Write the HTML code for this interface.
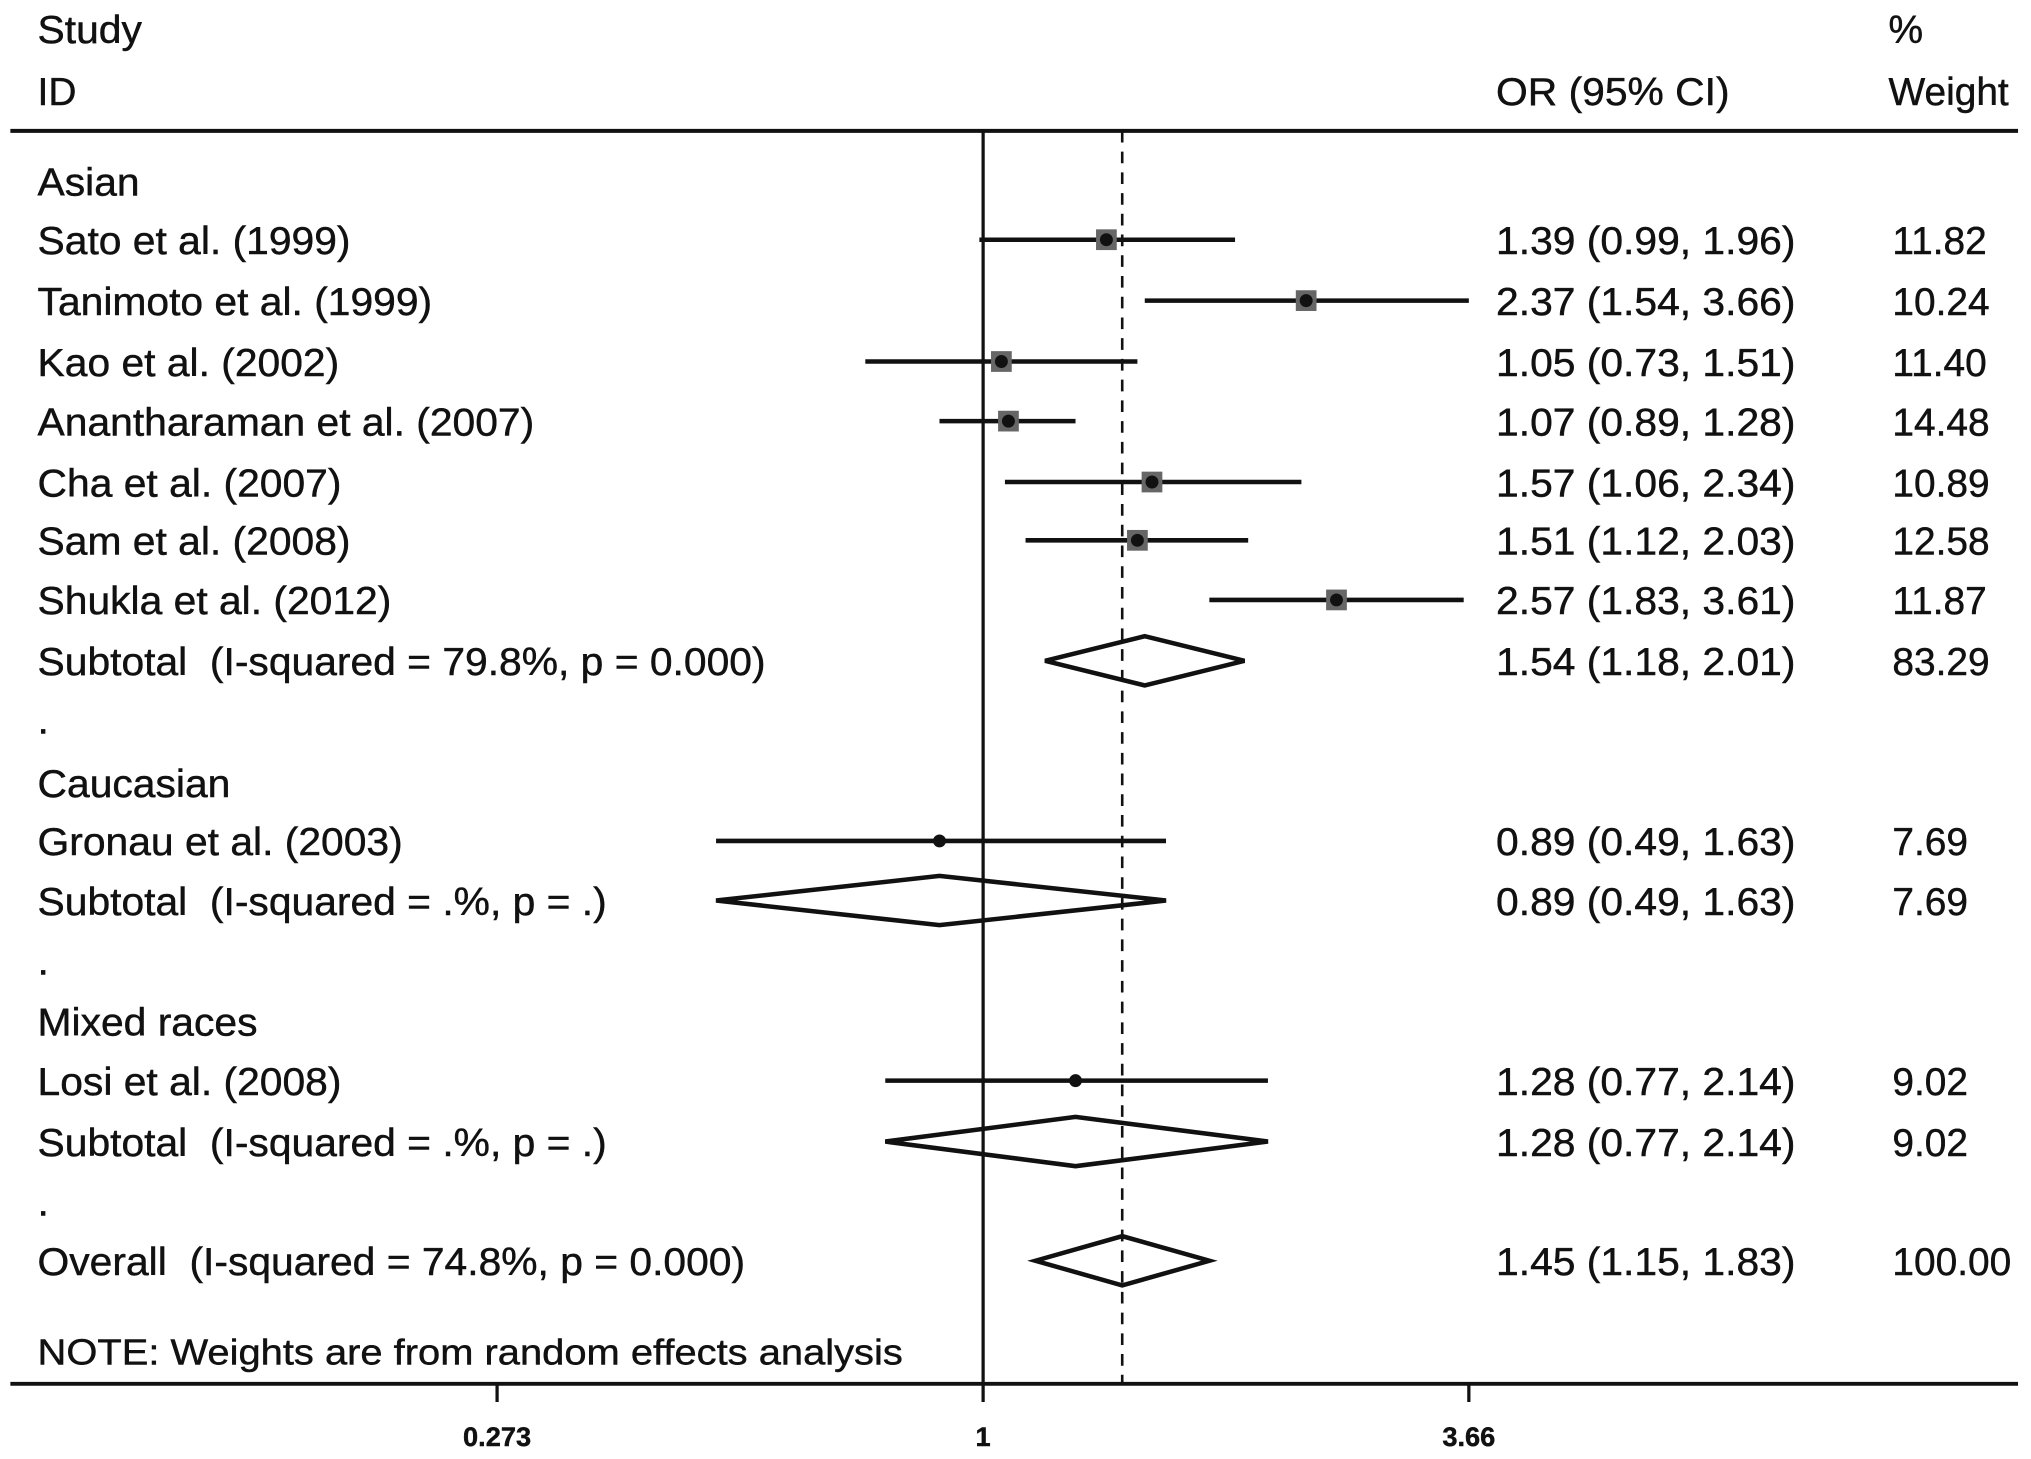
<!DOCTYPE html>
<html><head><meta charset="utf-8"><style>
html,body{margin:0;padding:0;background:#fff;}
svg{display:block;}
text{font-family:"Liberation Sans",Arial,sans-serif;fill:#111;white-space:pre;stroke:#111;stroke-width:0.35;}
</style></head><body>
<svg id="chart" width="2031" height="1459" viewBox="0 0 1568 1126" preserveAspectRatio="none" xmlns="http://www.w3.org/2000/svg" xml:space="preserve">
<g id="g"></g>
</svg>
<script>
const labels=["Asian","Sato et al. (1999)","Tanimoto et al. (1999)","Kao et al. (2002)","Anantharaman et al. (2007)","Cha et al. (2007)","Sam et al. (2008)","Shukla et al. (2012)","Subtotal  (I-squared = 79.8%, p = 0.000)",".","Caucasian","Gronau et al. (2003)","Subtotal  (I-squared = .%, p = .)",".","Mixed races","Losi et al. (2008)","Subtotal  (I-squared = .%, p = .)",".","Overall  (I-squared = 74.8%, p = 0.000)"];
const kinds=["h","s","s","s","s","s","s","s","d","h","h","s","d","h","h","s","d","h","d"];
const orVals=[null,1.39,2.37,1.05,1.07,1.57,1.51,2.57,1.54,null,null,0.89,0.89,null,null,1.28,1.28,null,1.45];
const lowVals=[null,0.99,1.54,0.73,0.89,1.06,1.12,1.83,1.18,null,null,0.49,0.49,null,null,0.77,0.77,null,1.15];
const highVals=[null,1.96,3.66,1.51,1.28,2.34,2.03,3.61,2.01,null,null,1.63,1.63,null,null,2.14,2.14,null,1.83];
const weights=[null,"11.82","10.24","11.40","14.48","10.89","12.58","11.87","83.29",null,null,"7.69","7.69",null,null,"9.02","9.02",null,"100.00"];
const tickVals=[0.273,1,3.66];
const tickLabels=["0.273","1","3.66"];
const overallOR=1.45;

const NS="http://www.w3.org/2000/svg";
const g=document.getElementById('g');
function el(t,a,txt){const e=document.createElementNS(NS,t);for(const k in a)e.setAttribute(k,a[k]);if(txt!=null)e.textContent=txt;g.appendChild(e);return e;}
function stretch(t,k){const w=t.getComputedTextLength();if(w>0){t.setAttribute('textLength',w*k);t.setAttribute('lengthAdjust','spacingAndGlyphs');}}
const X=v=>759+375*Math.log(v)/Math.log(3.66);
const rowY=[140,185,232,279,325,372,417,463,510,555,604,649,695,741,788,834,881,927,973];
const f=n=>n.toFixed(2);
const FS=30, K=1.05;

let e;
e=el('text',{x:29,y:33,'font-size':FS},'Study');


stretch(e,K);
e=el('text',{x:29,y:81,'font-size':FS},'ID');


e=el('text',{x:1155,y:81,'font-size':FS},'OR (95% CI)');


stretch(e,K);
e=el('text',{x:1458,y:33,'font-size':FS},'%');


e=el('text',{x:1458,y:81,'font-size':FS},'Weight');


stretch(e,1.0);
e=el('line',{x1:8,x2:1558,y1:101,y2:101,stroke:'#111','stroke-width':3});


e=el('line',{x1:X(1),x2:X(1),y1:101,y2:1068,stroke:'#111','stroke-width':2.5});


e=el('line',{x1:X(overallOR),x2:X(overallOR),y1:101,y2:1068,stroke:'#111','stroke-width':2,'stroke-dasharray':'9,7'});



labels.forEach((lab,i)=>{
  const y=rowY[i];
  const t=el('text',{x:29,y:y+11,'font-size':FS},lab);
  
  
  stretch(t,K);
  if(orVals[i]==null)return;
  const lo=X(lowVals[i]),hi=X(highVals[i]),c=X(orVals[i]);
  if(kinds[i]==='s'){
    const l=el('line',{x1:lo,x2:hi,y1:y,y2:y,stroke:'#111','stroke-width':3.5});
    
    
    const w=parseFloat(weights[i]);const s=w>10?16:0;
    if(s){const r=el('rect',{x:c-s/2,y:y-s/2,width:s,height:s,fill:'#666'});
      
      }
    const d=el('circle',{cx:c,cy:y,r:5,fill:'#111'});
    
    
  } else {
    const p=el('polygon',{points:`${lo},${y} ${c},${y-19} ${hi},${y} ${c},${y+19}`,fill:'none',stroke:'#111','stroke-width':3.5});
    
    
  }
  const o=el('text',{x:1155,y:y+11,'font-size':FS},`${f(orVals[i])} (${f(lowVals[i])}, ${f(highVals[i])})`);
  
  
  stretch(o,K);
  const wt=el('text',{x:1461,y:y+11,'font-size':FS},weights[i]);
  
  
});
e=el('text',{x:29,y:1053,'font-size':28},'NOTE: Weights are from random effects analysis');


stretch(e,1.1);
e=el('line',{x1:8,x2:1558,y1:1068,y2:1068,stroke:'#111','stroke-width':3});


tickVals.forEach((v,i)=>{
  const tk=el('line',{x1:X(v),x2:X(v),y1:1068,y2:1082,stroke:'#111','stroke-width':2.5});
  
  
  const tl=el('text',{x:X(v),y:1116,'font-size':21,'font-weight':'bold','text-anchor':'middle'},tickLabels[i]);
  
  
});
</script>
</body></html>
